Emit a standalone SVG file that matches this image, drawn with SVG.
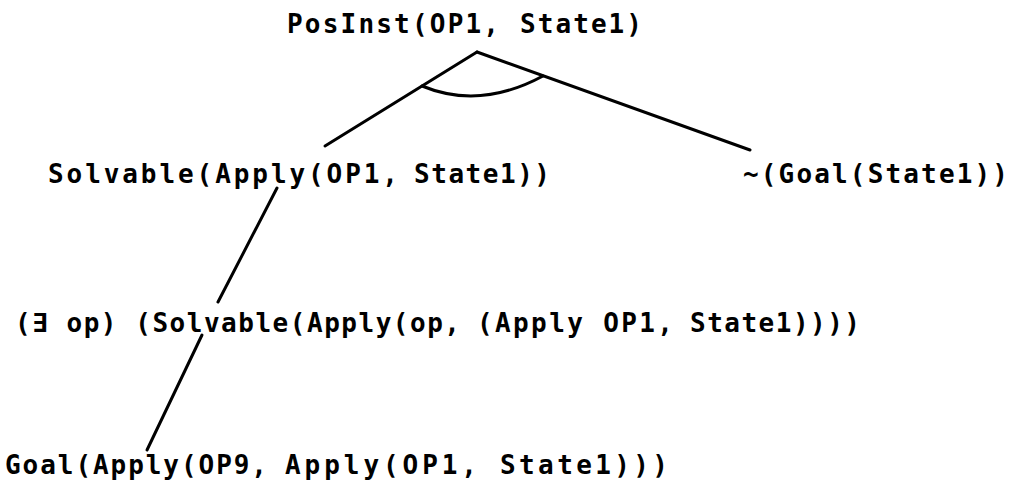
<svg xmlns="http://www.w3.org/2000/svg" width="1013" height="482" viewBox="0 0 1013 482">
<style>
.t{font-family:"DejaVu Sans Mono","Liberation Mono",monospace;font-size:26px;font-weight:bold;fill:#000}
.c{stroke:#000;stroke-width:3;fill:none;stroke-linecap:round}
</style>
<rect width="1013" height="482" fill="#fff"/>
<g id="connectors">
<line class="c" x1="477" y1="52" x2="325" y2="146"/>
<line class="c" x1="477" y1="52" x2="750" y2="150"/>
<path class="c" d="M422,86 Q480,110 543,76"/>
<line class="c" x1="277" y1="188" x2="218" y2="302"/>
<line class="c" x1="202" y1="335" x2="147" y2="450"/>
</g>
<g id="n-posinst"><text class="t" y="33"><tspan x="287" textLength="212" lengthAdjust="spacing">PosInst(OP1,</tspan> <tspan x="520" textLength="122" lengthAdjust="spacing">State1)</tspan></text></g>
<g id="n-solvable"><text class="t" y="183"><tspan x="48" textLength="350" lengthAdjust="spacing">Solvable(Apply(OP1,</tspan> <tspan x="414" textLength="136" lengthAdjust="spacing">State1))</tspan></text></g>
<g id="n-notgoal"><text class="t" x="743" y="183" textLength="265" lengthAdjust="spacing">~(Goal(State1))</text></g>
<g id="n-exists"><text class="t" y="332"><tspan x="15" textLength="445" lengthAdjust="spacing">(∃ op) (Solvable(Apply(op,</tspan> <tspan x="477" textLength="196" lengthAdjust="spacing">(Apply OP1,</tspan> <tspan x="690" textLength="170" lengthAdjust="spacing">State1))))</tspan></text></g>
<g id="n-goal"><text class="t" y="474"><tspan x="5" textLength="262" lengthAdjust="spacing">Goal(Apply(OP9,</tspan> <tspan x="285" textLength="192" lengthAdjust="spacing">Apply(OP1,</tspan> <tspan x="500" textLength="168" lengthAdjust="spacing">State1)))</tspan></text></g>
</svg>
